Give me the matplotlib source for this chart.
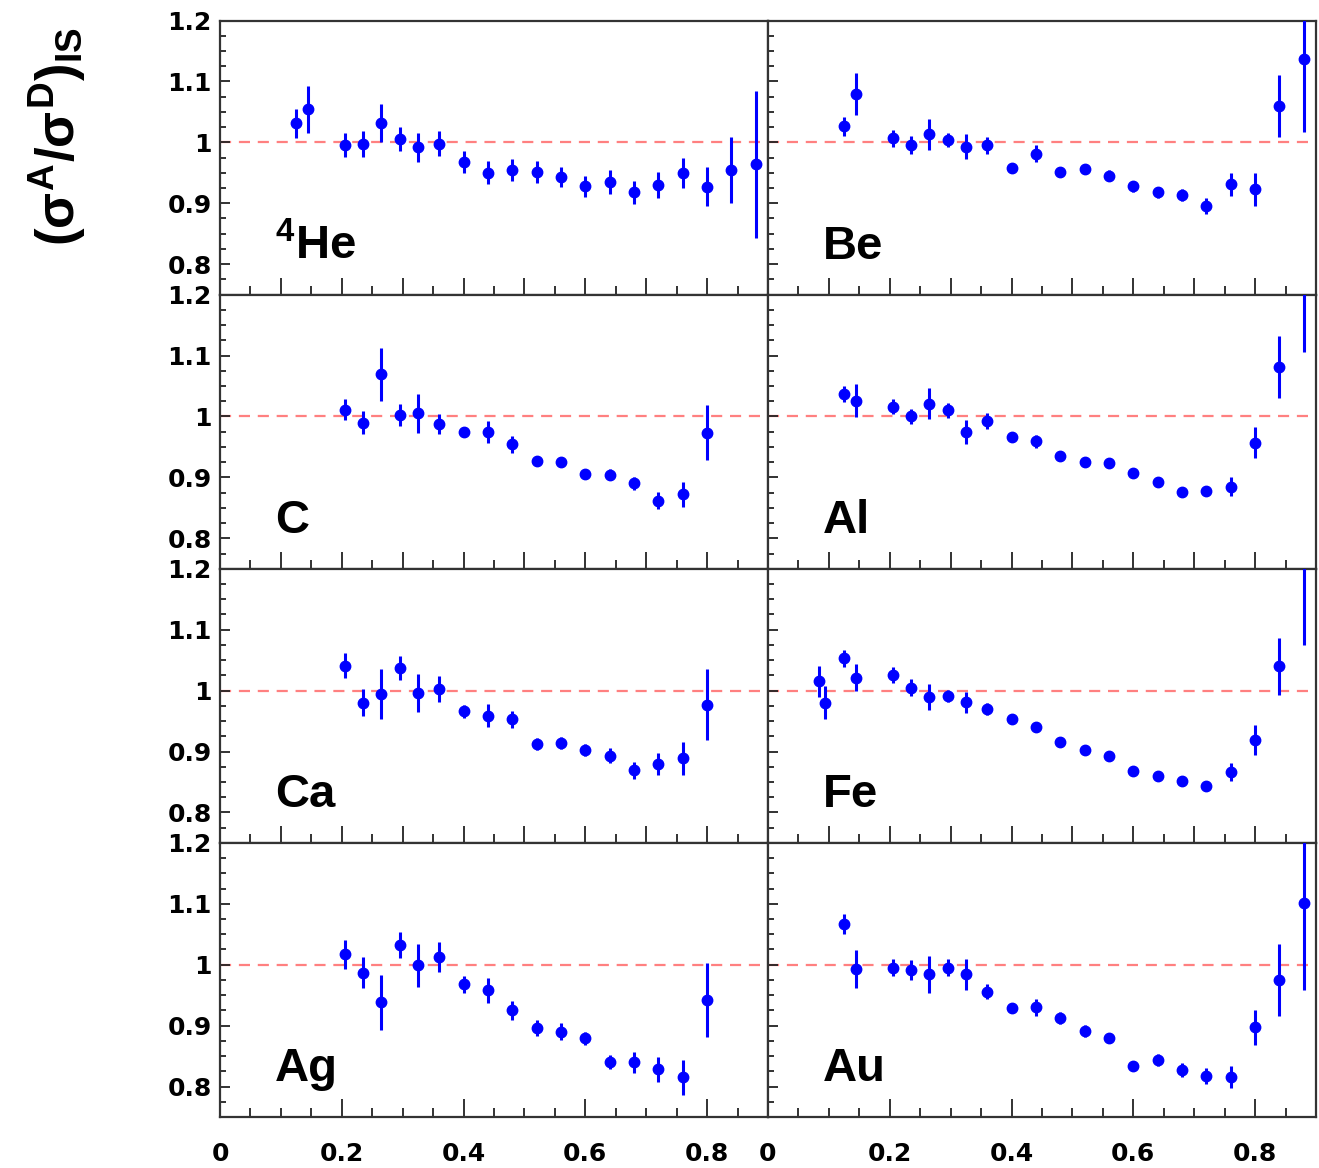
import matplotlib
matplotlib.use("Agg")
import matplotlib.pyplot as plt
from matplotlib.ticker import MultipleLocator, FixedLocator

# x bins
x_full = [0.125, 0.145, 0.205, 0.235, 0.265, 0.295, 0.325, 0.36, 0.40, 0.44, 0.48,
          0.52, 0.56, 0.60, 0.64, 0.68, 0.72, 0.76, 0.80, 0.84, 0.88]
x_fe = [0.083, 0.094] + x_full
x_short = [0.205, 0.235, 0.265, 0.295, 0.325, 0.36, 0.40, 0.44, 0.48,
           0.52, 0.56, 0.60, 0.64, 0.68, 0.72, 0.76, 0.80]

# ratios and errors per nucleus
he_y = [1.031, 1.054, 0.996, 0.997, 1.032, 1.005, 0.992, 0.998, 0.968, 0.950, 0.954,
        0.952, 0.943, 0.928, 0.935, 0.918, 0.930, 0.950, 0.927, 0.954, 0.964]
he_err = [0.024, 0.039, 0.020, 0.021, 0.031, 0.020, 0.024, 0.021, 0.018, 0.019, 0.018,
          0.018, 0.017, 0.017, 0.019, 0.019, 0.022, 0.025, 0.032, 0.054, 0.121]

be_y = [1.026, 1.079, 1.007, 0.996, 1.013, 1.004, 0.993, 0.995, 0.958, 0.981, 0.951,
        0.956, 0.945, 0.928, 0.918, 0.913, 0.896, 0.931, 0.923, 1.059, 1.137]
be_err = [0.016, 0.034, 0.014, 0.015, 0.025, 0.012, 0.021, 0.014, 0.008, 0.014, 0.008,
          0.008, 0.009, 0.009, 0.009, 0.010, 0.013, 0.019, 0.027, 0.051, 0.120]

c_y = [1.011, 0.990, 1.069, 1.002, 1.005, 0.988, 0.974, 0.975, 0.954, 0.927, 0.925,
       0.906, 0.904, 0.890, 0.862, 0.872, 0.973]
c_err = [0.017, 0.019, 0.043, 0.018, 0.032, 0.016, 0.008, 0.018, 0.014, 0.008, 0.008,
         0.008, 0.009, 0.010, 0.014, 0.021, 0.045]

al_y = [1.037, 1.026, 1.016, 1.000, 1.021, 1.010, 0.975, 0.993, 0.966, 0.959, 0.935,
        0.926, 0.923, 0.907, 0.892, 0.876, 0.877, 0.885, 0.957, 1.081, 1.240]
al_err = [0.013, 0.027, 0.012, 0.013, 0.025, 0.012, 0.020, 0.013, 0.008, 0.010, 0.008,
          0.008, 0.008, 0.008, 0.008, 0.008, 0.008, 0.016, 0.025, 0.051, 0.135]

ca_y = [1.041, 0.980, 0.995, 1.037, 0.996, 1.003, 0.966, 0.959, 0.953, 0.912, 0.914,
        0.903, 0.893, 0.869, 0.879, 0.889, 0.977]
ca_err = [0.021, 0.022, 0.041, 0.019, 0.031, 0.021, 0.011, 0.019, 0.014, 0.010, 0.010,
          0.010, 0.012, 0.014, 0.018, 0.027, 0.058]

fe_y = [1.015, 0.980, 1.053, 1.021, 1.025, 1.005, 0.989, 0.991, 0.981, 0.970, 0.954,
        0.940, 0.915, 0.903, 0.892, 0.868, 0.859, 0.851, 0.844, 0.866, 0.919, 1.040, 1.215]
fe_err = [0.025, 0.027, 0.014, 0.022, 0.013, 0.014, 0.021, 0.010, 0.017, 0.010, 0.008,
          0.008, 0.008, 0.008, 0.008, 0.008, 0.008, 0.008, 0.008, 0.015, 0.024, 0.047, 0.140]

ag_y = [1.017, 0.987, 0.938, 1.032, 0.999, 1.013, 0.968, 0.958, 0.925, 0.896, 0.890,
        0.879, 0.840, 0.840, 0.828, 0.815, 0.942]
ag_err = [0.024, 0.026, 0.045, 0.021, 0.035, 0.025, 0.014, 0.021, 0.015, 0.013, 0.014,
          0.010, 0.012, 0.017, 0.020, 0.029, 0.060]

au_y = [1.067, 0.993, 0.995, 0.991, 0.984, 0.995, 0.984, 0.956, 0.929, 0.930, 0.913,
        0.891, 0.880, 0.834, 0.844, 0.827, 0.817, 0.815, 0.897, 0.975, 1.101]
au_err = [0.017, 0.031, 0.014, 0.016, 0.030, 0.014, 0.025, 0.013, 0.008, 0.014, 0.010,
          0.010, 0.008, 0.008, 0.010, 0.012, 0.013, 0.018, 0.029, 0.059, 0.143]

panels = [
    (r'$^{4}$He', x_full, he_y, he_err),
    ('Be', x_full, be_y, be_err),
    ('C', x_short, c_y, c_err),
    ('Al', x_full, al_y, al_err),
    ('Ca', x_short, ca_y, ca_err),
    ('Fe', x_fe, fe_y, fe_err),
    ('Ag', x_short, ag_y, ag_err),
    ('Au', x_full, au_y, au_err),
]

y_ticks = [0.8, 0.9, 1.0, 1.1, 1.2]
y_tick_labels = ['0.8', '0.9', '1', '1.1', '1.2']
x_ticks = [0.0, 0.2, 0.4, 0.6, 0.8]
x_tick_labels = ['0', '0.2', '0.4', '0.6', '0.8']

plt.rcParams['mathtext.fontset'] = 'custom'
for key in ('rm', 'it', 'bf', 'sf'):
    plt.rcParams['mathtext.' + key] = 'Liberation Sans:bold'

W, H = 1319, 1168
fig = plt.figure(figsize=(W / 100, H / 100), dpi=100)

ax_left = [220 / W, 768 / W]
ax_w = 548 / W
top_px, bot_px = 20.5, 1117
row_h = (bot_px - top_px) / 4
tick_font = dict(family='DejaVu Sans', weight='bold', size=18)

for i, (name, xs, ys, errs) in enumerate(panels):
    row, col = divmod(i, 2)
    y0 = 1 - (top_px + (row + 1) * row_h) / H
    ax = fig.add_axes([ax_left[col], y0, ax_w, row_h / H])

    ax.axhline(1.0, color='#ff4a4a', alpha=0.7, lw=1.6, ls=(0, (5, 3.5)), zorder=1)
    ax.errorbar(xs, ys, yerr=errs, fmt='o', color='#0000ff', ms=7.5,
                elinewidth=2.2, capsize=0, zorder=3)

    ax.set_xlim(0, 0.9)
    ax.set_ylim(0.75, 1.2)

    ax.yaxis.set_major_locator(FixedLocator(y_ticks))
    ax.yaxis.set_minor_locator(MultipleLocator(0.025))
    ax.xaxis.set_minor_locator(MultipleLocator(0.05))
    if row == 3:
        ax.xaxis.set_major_locator(FixedLocator(x_ticks))
        ax.set_xticklabels(x_tick_labels, fontdict=tick_font)
        ax.tick_params(axis='x', which='major', length=13, pad=18)
    else:
        ax.xaxis.set_major_locator(MultipleLocator(0.1))
        ax.tick_params(axis='x', which='major', length=12, labelbottom=False)
    ax.tick_params(axis='x', which='minor', length=6.5)

    if col == 0:
        ax.set_yticklabels(y_tick_labels, fontdict=tick_font)
    else:
        ax.tick_params(axis='y', labelleft=False)
    ax.tick_params(axis='y', which='major', length=7.5, pad=6)
    ax.tick_params(axis='y', which='minor', length=4.5)
    ax.tick_params(which='both', direction='in', top=False, right=False,
                   width=1.3, color='#222222')

    for sp in ax.spines.values():
        sp.set_linewidth(1.6)
        sp.set_color('#333333')

    ax.text(0.1, 0.13, name, transform=ax.transAxes, fontsize=34,
            fontfamily='Liberation Sans', fontweight='bold', va='baseline', ha='left')

fig.text(0.044, 0.883, r'$(\sigma^{A}/\sigma^{D})_{IS}$', rotation=90,
         fontsize=38, ha='center', va='center')

fig.savefig('out.png', dpi=100)
